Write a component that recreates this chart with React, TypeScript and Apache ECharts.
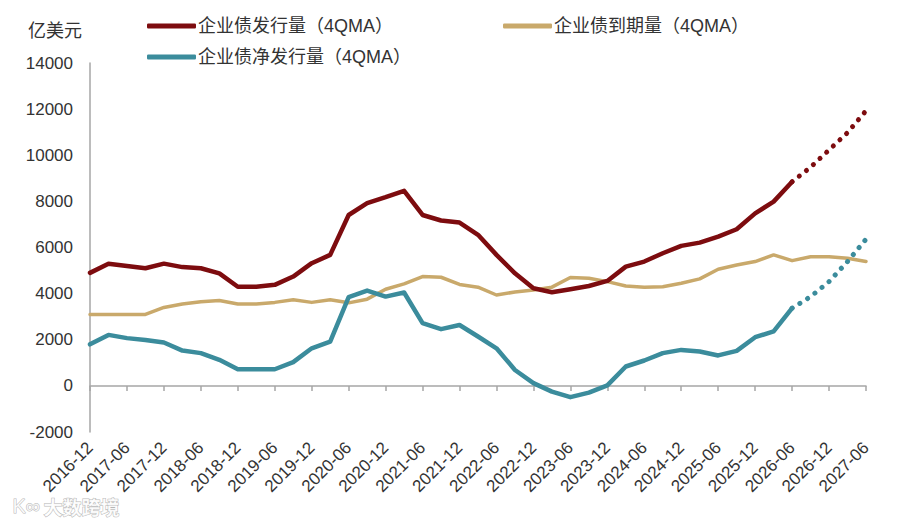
import { useEffect, useRef } from 'react';
import * as echarts from 'echarts';

const quarters = [
  '2016-12', '2017-03', '2017-06', '2017-09', '2017-12', '2018-03', '2018-06', '2018-09',
  '2018-12', '2019-03', '2019-06', '2019-09', '2019-12', '2020-03', '2020-06', '2020-09',
  '2020-12', '2021-03', '2021-06', '2021-09', '2021-12', '2022-03', '2022-06', '2022-09',
  '2022-12', '2023-03', '2023-06', '2023-09', '2023-12', '2024-03', '2024-06', '2024-09',
  '2024-12', '2025-03', '2025-06', '2025-09', '2025-12', '2026-03', '2026-06', '2026-09',
  '2026-12', '2027-03', '2027-06',
];

// 企业债发行量（4QMA）
const issuance = [
  4900, 5300, 5200, 5100, 5300, 5150, 5100, 4880, 4300, 4300, 4380, 4740, 5320, 5680, 7410,
  7920, 8180, 8460, 7410, 7170, 7080, 6550, 5680, 4880, 4230, 4060, 4190, 4330, 4550, 5170,
  5390, 5750, 6070, 6210, 6470, 6790, 7480, 7990, 8850, 9480, 10230, 10980, 11930,
];

// 企业债到期量（4QMA）
const maturity = [
  3100, 3100, 3100, 3100, 3400, 3550, 3650, 3700, 3550, 3550, 3620, 3730, 3620, 3730, 3600,
  3760, 4190, 4420, 4740, 4710, 4400, 4280, 3940, 4070, 4160, 4280, 4700, 4670, 4520, 4330,
  4280, 4300, 4450, 4640, 5060, 5240, 5390, 5680, 5430, 5600, 5600, 5530, 5390,
];

// 企业债净发行量（4QMA）
const netIssuance = [
  1800, 2210, 2070, 1990, 1880, 1530, 1420, 1130, 720, 720, 720, 1030, 1630, 1920, 3850,
  4130, 3870, 4050, 2720, 2460, 2640, 2140, 1630, 690, 120, -250, -490, -290, 20, 840,
  1100, 1420, 1560, 1490, 1320, 1520, 2110, 2360, 3370, 3870, 4520, 5390, 6360,
];

// 从该季度起为预测值（点线）
const forecastStart = 38;

const yTicks = { min: -2000, max: 14000, interval: 2000 };

const RED = '#7d0c0f';
const GOLD = '#c9a96b';
const TEAL = '#3b8c9c';
const TEXT = '#333333';
const AXIS = '#a6a6a6';
const FONT = '"Liberation Sans", Arial, "Noto Sans CJK SC", sans-serif';

const actual = (arr: number[]) => arr.map((v, i) => (i <= forecastStart ? v : null));
const forecast = (arr: number[]) => arr.map((v, i) => (i >= forecastStart ? v : null));

export default function App() {
  const chartRef = useRef<HTMLDivElement>(null);

  useEffect(() => {
    document.body.style.margin = '0';
    if (!chartRef.current) return;
    const chart = echarts.init(chartRef.current, undefined, { renderer: 'svg' });

    const solidLine = (color: string, width: number) => ({
      color,
      width,
      cap: 'round' as const,
      join: 'round' as const,
    });
    const dotLine = (color: string) => ({
      color,
      width: 5,
      type: [0.1, 9] as number[],
      cap: 'round' as const,
    });

    const legendText = { color: TEXT, fontSize: 18, fontFamily: FONT };

    const option: echarts.EChartsOption = {
      animation: false,
      backgroundColor: '#ffffff',
      title: {
        text: '亿美元',
        left: 23,
        top: 17,
        textStyle: { color: TEXT, fontSize: 18, fontWeight: 'normal', fontFamily: FONT },
      },
      legend: [
        {
          left: 142,
          top: 12,
          itemWidth: 49,
          itemHeight: 5,
          itemGap: 110,
          icon: 'roundRect',
          textStyle: { ...legendText, padding: [0, 0, 0, -3] },
          data: ['企业债发行量（4QMA）', '企业债到期量（4QMA）'],
        },
        {
          left: 142,
          top: 43,
          itemWidth: 49,
          itemHeight: 5,
          icon: 'roundRect',
          textStyle: { ...legendText, padding: [0, 0, 0, -3] },
          data: ['企业债净发行量（4QMA）'],
        },
      ],
      grid: { left: 90, right: 34, top: 63, bottom: 91 },
      xAxis: [
        {
          type: 'category',
          data: quarters,
          boundaryGap: false,
          position: 'bottom',
          axisLine: { onZero: true, lineStyle: { color: AXIS, width: 1.5 } },
          axisTick: { show: true, interval: 1, length: 5, lineStyle: { color: AXIS, width: 1.5 } },
          axisLabel: { show: false },
          splitLine: { show: false },
        },
        {
          type: 'category',
          data: quarters,
          boundaryGap: false,
          position: 'bottom',
          axisLine: { show: false, onZero: false },
          axisTick: { show: false },
          axisLabel: {
            interval: 1,
            rotate: 45,
            margin: 13,
            color: TEXT,
            fontSize: 17,
            fontFamily: FONT,
          },
          splitLine: { show: false },
        },
      ],
      yAxis: {
        type: 'value',
        ...yTicks,
        axisLine: { show: true, lineStyle: { color: AXIS, width: 1.5 } },
        axisTick: { show: false },
        axisLabel: {
          color: TEXT,
          fontSize: 17,
          fontFamily: FONT,
          margin: 17,
          formatter: (v: number) => String(v),
        },
        splitLine: { show: false },
      },
      series: [
        {
          name: '企业债到期量（4QMA）',
          type: 'line',
          data: maturity,
          symbol: 'none',
          color: GOLD,
          lineStyle: solidLine(GOLD, 3.5),
          z: 2,
        },
        {
          name: '企业债发行量（4QMA）',
          type: 'line',
          data: actual(issuance),
          symbol: 'none',
          color: RED,
          lineStyle: solidLine(RED, 4.5),
          z: 3,
        },
        {
          name: '企业债发行量预测',
          type: 'line',
          data: forecast(issuance),
          symbol: 'none',
          color: RED,
          lineStyle: dotLine(RED),
          z: 3,
        },
        {
          name: '企业债净发行量（4QMA）',
          type: 'line',
          data: actual(netIssuance),
          symbol: 'none',
          color: TEAL,
          lineStyle: solidLine(TEAL, 4.5),
          z: 4,
        },
        {
          name: '企业债净发行量预测',
          type: 'line',
          data: forecast(netIssuance),
          symbol: 'none',
          color: TEAL,
          lineStyle: dotLine(TEAL),
          z: 4,
        },
      ],
      graphic: [
        {
          type: 'text',
          left: 12,
          top: 495,
          z: 100,
          style: {
            text: 'K∞',
            fill: 'rgba(255,255,255,0.85)',
            stroke: 'rgba(150,150,150,0.7)',
            lineWidth: 1,
            fontSize: 20,
            fontFamily: FONT,
          },
        },
        {
          type: 'text',
          left: 43,
          top: 496,
          z: 100,
          style: {
            text: '大数跨境',
            fill: 'rgba(255,255,255,0.85)',
            stroke: 'rgba(150,150,150,0.7)',
            lineWidth: 1,
            fontSize: 19,
            fontWeight: 'bold',
            fontFamily: '"Noto Sans CJK SC", sans-serif',
          },
        },
      ],
    };

    chart.setOption(option);
    return () => chart.dispose();
  }, []);

  return <div ref={chartRef} style={{ width: 900, height: 523 }} />;
}
